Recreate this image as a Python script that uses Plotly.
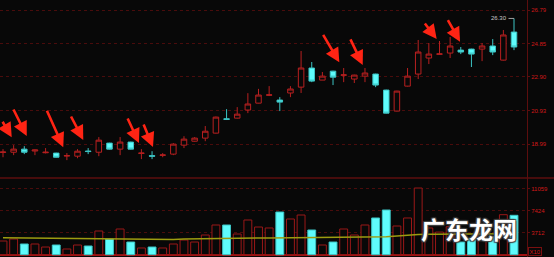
import plotly.graph_objects as go

# ---------------- data ----------------
idx = list(range(49))
opens  = [18.52, 18.53, 18.71, 18.60, 18.50, 18.48, 18.31, 18.30, 18.60, 18.53,
          19.06, 18.71, 19.12, 18.46, 18.33, 18.35, 18.42, 18.94, 19.17, 19.35,
          19.64, 20.47, 20.51, 20.98, 21.38, 21.84, 21.56, 21.97, 22.31, 23.42,
          22.72, 23.24, 23.00, 22.78, 22.95, 23.07, 22.14, 20.92, 22.37, 23.07,
          24.00, 24.22, 24.29, 24.46, 24.52, 24.52, 24.70, 23.88, 25.51]
highs  = [18.71, 18.94, 18.88, 18.68, 18.77, 18.50, 18.48, 18.71, 18.77, 19.41,
          19.08, 19.41, 19.14, 18.71, 18.59, 18.48, 19.06, 19.46, 19.41, 20.05,
          20.60, 21.03, 21.15, 21.96, 22.21, 22.37, 21.73, 22.37, 24.41, 23.77,
          23.19, 23.26, 23.42, 23.03, 23.42, 23.09, 22.16, 22.10, 23.42, 25.05,
          24.87, 24.99, 25.22, 24.64, 24.54, 24.87, 25.10, 25.63, 26.30]
lows   = [18.24, 18.36, 18.42, 18.36, 18.46, 18.22, 18.07, 18.18, 18.42, 18.30,
          18.69, 18.36, 18.69, 18.13, 18.13, 18.24, 18.36, 18.77, 19.15, 19.17,
          19.62, 20.40, 20.49, 20.80, 21.37, 21.79, 20.92, 21.73, 21.97, 22.60,
          22.72, 22.43, 22.60, 22.55, 22.60, 22.31, 20.78, 20.90, 22.35, 22.78,
          23.65, 24.20, 24.00, 24.23, 23.48, 23.82, 24.17, 23.86, 24.46]
closes = [18.54, 18.71, 18.53, 18.66, 18.53, 18.24, 18.33, 18.59, 18.57, 19.23,
          18.71, 19.12, 18.71, 18.48, 18.30, 18.37, 19.00, 19.29, 19.35, 19.75,
          20.57, 20.44, 20.74, 21.33, 21.85, 21.86, 21.44, 22.20, 23.42, 22.66,
          22.95, 22.89, 23.02, 23.01, 23.13, 22.43, 20.80, 22.08, 22.95, 24.35,
          24.23, 24.24, 24.70, 24.35, 24.23, 24.70, 24.35, 25.34, 24.64]
volumes = [2300, 2640, 1800, 1800, 1290, 1630, 960, 1630, 1460, 3980,
           2640, 4320, 2130, 1130, 1290, 1130, 1800, 2470, 2130, 3310,
           4990, 4990, 3480, 5830, 4650, 4490, 7170, 6000, 6670, 4150,
           1630, 2130, 4320, 3310, 4990, 6170, 7510, 4820, 6170, 11200,
           4490, 3800, 4700, 2130, 2690, 3800, 3020, 6720, 6620]
vol_ma = [2850, 2830, 2800, 2780, 2760, 2720, 2700, 2650, 2620, 2600,
          2620, 2640, 2560, 2540, 2530, 2540, 2560, 2640, 2680, 2700,
          2720, 2740, 2760, 2780, 2800, 2820, 2840, 2860, 2870, 2880,
          2880, 2870, 2880, 2900, 2920, 2950, 3000, 3150, 3300, 3380,
          3420, 3440, 3450, 3460, 3470, 3480, 3490, 3500, 3520]

price_ticks = [18.99, 20.93, 22.90, 24.85, 26.79]
price_tick_text = ["18.99", "20.93", "22.90", "24.85", "26.79"]
vol_ticks = [3712, 7424, 11059]
vol_tick_text = ["3712", "7424", "11059"]

high_label = "26.30"
watermark = "广东龙网"

# red arrows: head at (candle index, price), tail offset in pixels
arrow_x  = [0.82, 2.23, 5.66, 7.54, 12.77, 14.09, 31.59, 33.79, 40.74, 42.93]
arrow_y  = [19.40, 19.47, 18.82, 19.24, 19.07, 18.83, 23.75, 23.60, 25.11, 24.95]
arrow_dx = [-10, -14, -17, -13, -12, -10, -17, -13, -13, -13]
arrow_dy = [-17, -28, -38, -25, -26, -24, -29, -27, -17, -23]

# ---------------- styles ----------------
BG = "#080808"
RED = "#b82020"
RED_VOL = "#9a1818"
CYAN = "#5ffcfc"
CYAN_LINE = "#3cc4c4"
GRID = "#4a0c0c"
AXIS = "#5c0e0e"
LABEL = "#d01818"
TICKFONT = dict(family="Liberation Sans", size=6, color=LABEL)

fig = go.Figure()

fig.add_trace(go.Candlestick(
    x=idx, open=opens, high=highs, low=lows, close=closes,
    increasing=dict(line=dict(color=RED, width=1), fillcolor=BG),
    decreasing=dict(line=dict(color=CYAN_LINE, width=1), fillcolor=CYAN),
    whiskerwidth=0, xaxis="x", yaxis="y", showlegend=False, hoverinfo="skip"))

up_x = [i for i in idx if closes[i] >= opens[i]]
dn_x = [i for i in idx if closes[i] < opens[i]]
fig.add_trace(go.Bar(
    x=up_x, y=[volumes[i] for i in up_x], width=0.74,
    marker=dict(color=BG, line=dict(color=RED_VOL, width=1)),
    xaxis="x2", yaxis="y2", showlegend=False, hoverinfo="skip"))
fig.add_trace(go.Bar(
    x=dn_x, y=[volumes[i] for i in dn_x], width=0.74,
    marker=dict(color=CYAN, line=dict(color=CYAN_LINE, width=1)),
    xaxis="x2", yaxis="y2", showlegend=False, hoverinfo="skip"))
fig.add_trace(go.Scatter(
    x=idx, y=vol_ma, mode="lines", line=dict(color="#9c9c10", width=1.5),
    xaxis="x2", yaxis="y2", showlegend=False, hoverinfo="skip"))

split = 79 / 257
xr = [-0.282, 49.22]

fig.update_layout(
    width=554, height=257,
    margin=dict(l=0, r=27, t=0, b=0),
    paper_bgcolor=BG, plot_bgcolor=BG,
    boxgap=0.26,
    barmode="overlay",
    xaxis=dict(domain=[0, 1], range=xr, showticklabels=False, showgrid=False,
               zeroline=False, rangeslider=dict(visible=False), anchor="y"),
    xaxis2=dict(domain=[0, 1], range=xr, matches="x", showticklabels=False,
                showgrid=False, zeroline=False, anchor="y2"),
    yaxis=dict(domain=[split, 1], range=[17.033, 27.371], side="right",
               tickvals=price_ticks, ticktext=price_tick_text, tickfont=TICKFONT,
               showgrid=True, gridcolor=GRID, griddash="dot", gridwidth=1,
               showline=True, linecolor=AXIS, linewidth=1, mirror=False,
               ticks="outside", ticklen=2, tickcolor=AXIS, zeroline=False,
               anchor="x"),
    yaxis2=dict(domain=[0, split], range=[-386, 12886], side="right",
                tickvals=vol_ticks, ticktext=vol_tick_text, tickfont=TICKFONT,
                showgrid=True, gridcolor=GRID, griddash="dot", gridwidth=1,
                showline=True, linecolor=AXIS, linewidth=1,
                ticks="outside", ticklen=2, tickcolor=AXIS,
                zeroline=True, zerolinecolor="#a01010", zerolinewidth=2,
                anchor="x2"),
)

# separator between panels (full width)
fig.add_shape(type="line", xref="paper", yref="paper", x0=0, x1=554 / 527,
              y0=split, y1=split, line=dict(color=AXIS, width=1.5), layer="above")

annotations = []
for ax_, ay_, dx, dy in zip(arrow_x, arrow_y, arrow_dx, arrow_dy):
    annotations.append(dict(
        x=ax_, y=ay_, xref="x", yref="y", text="", showarrow=True,
        ax=dx, ay=dy, arrowhead=2, arrowsize=1.1, arrowwidth=2.6,
        arrowcolor="#ff2414", standoff=0))

annotations.append(dict(
    x=48, y=highs[48], xref="x", yref="y", text=high_label, showarrow=True,
    ax=-15, ay=0, arrowhead=0, arrowwidth=1, arrowcolor="#a0a0a0",
    font=dict(family="Liberation Sans", size=6, color="#c8c8c8")))

annotations.append(dict(
    x=(535 - 0) / 527, y=(257 - 251.5) / 257, xref="paper", yref="paper",
    text="X10", showarrow=False, xanchor="center", yanchor="middle",
    font=dict(family="Liberation Sans", size=6, color=LABEL),
    bordercolor="#7a1010", borderwidth=1, borderpad=0.5, bgcolor=BG))

annotations.append(dict(
    x=469 / 527, y=(257 - 228) / 257, xref="paper", yref="paper",
    text=watermark, showarrow=False, xanchor="center", yanchor="middle",
    font=dict(family="Noto Sans CJK SC", size=24, color="#ffffff", weight="bold",
              shadow="1px 1px 1px #444, -1px -1px 1px #444, 1px -1px 1px #444, -1px 1px 1px #444")))

fig.update_layout(annotations=annotations)

fig.write_html("out.html")
